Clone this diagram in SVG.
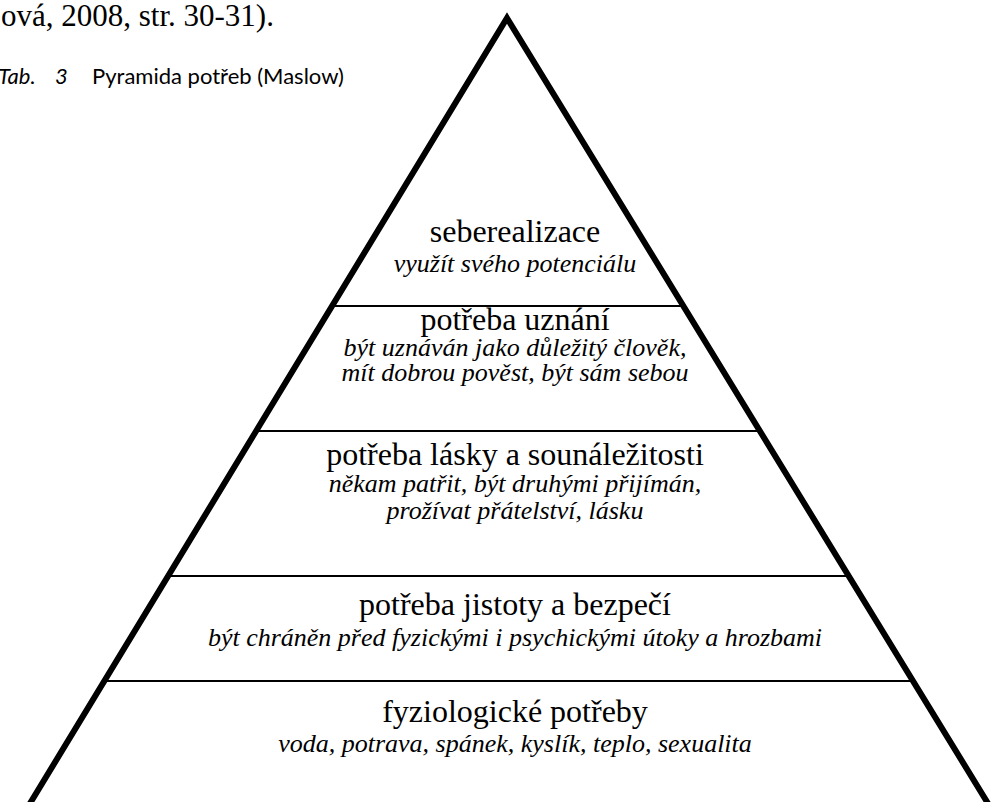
<svg xmlns="http://www.w3.org/2000/svg" width="992" height="802" viewBox="0 0 992 802">
<style>
.div{stroke:#000;stroke-width:2;fill:none}
.edge{fill:none;stroke:#000;stroke-width:6;stroke-miterlimit:10}
</style>
<rect width="992" height="802" fill="#fff"/>
<g id="caption">
<text x="1" y="26" font-family="Liberation Serif, serif" font-size="31">ová, 2008, str. 30-31).</text>
<text x="-2" y="84" font-family="Lato, Liberation Sans, sans-serif" font-size="22" font-style="italic">Tab.</text>
<text x="55" y="84" font-family="Lato, Liberation Sans, sans-serif" font-size="22" font-style="italic">3</text>
<text x="92" y="84" font-family="Lato, Liberation Sans, sans-serif" font-size="22">Pyramida potřeb (Maslow)</text>
</g>
<g id="connectors">
<polyline class="edge" points="26,810 507,18 992,810"/>
<line class="div" x1="331" y1="306" x2="684" y2="306"/>
<line class="div" x1="256" y1="431" x2="760" y2="431"/>
<line class="div" x1="168" y1="576" x2="849" y2="576"/>
<line class="div" x1="104" y1="681" x2="913" y2="681"/>
</g>
<g id="level5" font-family="Liberation Serif, serif" text-anchor="middle" fill="#000">
<text x="515" y="242" font-size="32">seberealizace</text>
<text x="515" y="272" font-size="26" font-style="italic">využít svého potenciálu</text>
</g>
<g id="level4" font-family="Liberation Serif, serif" text-anchor="middle" fill="#000">
<text x="515" y="330" font-size="32">potřeba uznání</text>
<text x="515" y="356" font-size="26" font-style="italic">být uznáván jako důležitý člověk,</text>
<text x="515" y="381" font-size="26" font-style="italic">mít dobrou pověst, být sám sebou</text>
</g>
<g id="level3" font-family="Liberation Serif, serif" text-anchor="middle" fill="#000">
<text x="515" y="465" font-size="32">potřeba lásky a sounáležitosti</text>
<text x="515" y="492" font-size="26" font-style="italic">někam patřit, být druhými přijímán,</text>
<text x="515" y="519" font-size="26" font-style="italic">prožívat přátelství, lásku</text>
</g>
<g id="level2" font-family="Liberation Serif, serif" text-anchor="middle" fill="#000">
<text x="515" y="615" font-size="32">potřeba jistoty a bezpečí</text>
<text x="515" y="646" font-size="26" font-style="italic">být chráněn před fyzickými i psychickými útoky a hrozbami</text>
</g>
<g id="level1" font-family="Liberation Serif, serif" text-anchor="middle" fill="#000">
<text x="515" y="722" font-size="32">fyziologické potřeby</text>
<text x="515" y="752" font-size="26" font-style="italic">voda, potrava, spánek, kyslík, teplo, sexualita</text>
</g>
</svg>
